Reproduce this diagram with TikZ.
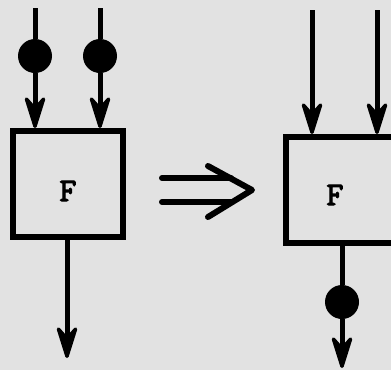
\documentclass[tikz,border=0pt]{standalone}
\usepackage{fontspec}
\newfontfamily\ffont[FakeBold=3.5]{Latin Modern Mono}
\usetikzlibrary{arrows.meta}
\definecolor{paper}{RGB}{226,226,226}
\tikzset{
  fbox/.style={draw, line width=6pt, minimum width=110pt, minimum height=106pt, inner sep=0pt},
  flabel/.style={font=\ffont\fontsize{33}{33}\selectfont, inner sep=0pt},
  dot/.style={circle, fill=black, minimum size=34pt, inner sep=0pt},
  wire/.style={line width=5pt},
  arr/.style={wire, -{Stealth[length=40pt, width=25pt, inset=14pt, line width=3.5pt, round]}},
  implies/.style={line width=6pt, line cap=round, line join=round}
}
\begin{document}
\begin{tikzpicture}[x=1pt, y=-1pt]
\fill[paper] (0,0) rectangle (391,370);
\useasboundingbox (0,0) rectangle (391,370);
\clip (0,0) rectangle (391,370);
% left block
\node[fbox] (A) at (68,184) {};
\node[flabel] (FA) at (68,191) {F};
\coordinate (a1) at (35,8);
\coordinate (a2) at (100,8);
\node[dot] (d1) at (35,56) {};
\node[dot] (d2) at (100,56) {};
\draw[wire] (a1) -- (d1);
\draw[wire] (a2) -- (d2);
\draw[arr] (d1) -- (d1 |- A.north);
\draw[arr] (d2) -- (d2 |- A.north);
\coordinate (ao) at (67,358);
\draw[arr] (ao |- A.south) -- (ao);
% implication arrow
\coordinate (i1) at (162,178);
\coordinate (i2) at (162,202);
\coordinate (j1) at (231,178);
\coordinate (j2) at (232,202);
\coordinate (h1) at (208,166);
\coordinate (h2) at (208,217);
\coordinate (ht) at (252,190);
\draw[implies] (i1) -- (j1);
\draw[implies] (i2) -- (j2);
\draw[implies] (h1) -- (ht) -- (h2);
% right block
\node[fbox] (B) at (341,190) {};
\node[flabel] (FB) at (335,195) {F};
\coordinate (b1) at (312,10);
\coordinate (b2) at (377,10);
\draw[arr] (b1) -- (b1 |- B.north);
\draw[arr] (b2) -- (b2 |- B.north);
\node[dot] (d3) at (342,302) {};
\coordinate (bo) at (342,368);
\draw[wire] (d3 |- B.south) -- (d3);
\draw[arr] (d3) -- (bo);
\end{tikzpicture}
\end{document}
